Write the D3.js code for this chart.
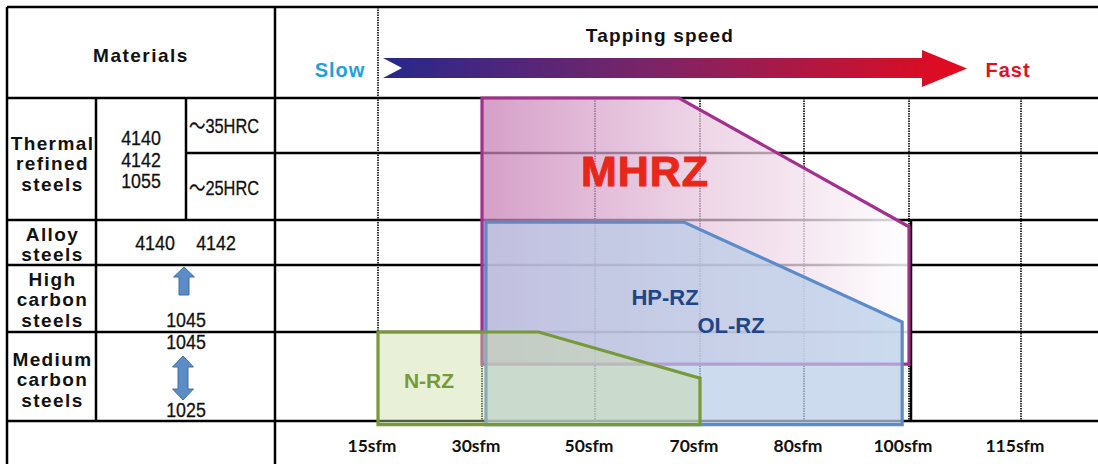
<!DOCTYPE html>
<html>
<head>
<meta charset="utf-8">
<script src="https://cdn.jsdelivr.net/npm/d3@7"></script>
<style>
  body { margin: 0; background: #fff; }
  svg { display: block; }
</style>
</head>
<body>
<div id="chart"></div>
<script>
// x axis: tapping speed ticks
const speedLabels = ["15sfm", "30sfm", "50sfm", "70sfm", "80sfm", "100sfm", "115sfm"];
const speedValues = [15, 30, 50, 70, 80, 100, 115];

// tap ranges as [speed (sfm), row position] (rows: 0 = ~35HRC top ... 5 = bottom of medium carbon)
const mhrzPoints = [[30, 0], [66, 0], [100, 2.15], [100, 4.36], [30, 4.36]];
const hprzPoints = [[30.7, 2.05], [67, 2.05], [98.7, 3.85], [98.7, 5.04], [30.7, 5.04]];
const nrzPoints  = [[15, 4.0], [40, 4.0], [70, 4.52], [70, 5.04], [15, 5.04]];

// material table
const materialNames = [["Thermal", "refined", "steels"], ["Alloy", "steels"], ["High", "carbon", "steels"], ["Medium", "carbon", "steels"]];
const thermalGrades = ["4140", "4142", "1055"];
const hardness = ["～35HRC", "～25HRC"];
const alloyGrades = ["4140", "4142"];
const highCarbonGrade = "1045";
const mediumCarbonGrades = ["1045", "1025"];

const W = 1098, H = 464;
const bold = "'Liberation Sans', Arial, sans-serif";
const narrow = "'Liberation Sans', 'Noto Sans CJK JP', sans-serif";

// layout (table lines)
const leftX = 7, topY = 7, colA = 96, colB = 186, colC = 275;
const rowY = [98, 153, 220, 265, 332, 421];
const gridX = [378, 482, 595, 700, 804, 909, 1021];

const x = d3.scaleLinear().domain(speedValues).range(gridX);
const y = d3.scaleLinear().domain(d3.range(rowY.length)).range(rowY);

const svg = d3.select("#chart").append("svg")
    .attr("width", W)
    .attr("height", H);

const defs = svg.append("defs");

const mg = defs.append("linearGradient").attr("id", "mhrzFill")
    .attr("x1", 0).attr("x2", 1).attr("y1", 0).attr("y2", 0);
mg.append("stop").attr("offset", 0).attr("stop-color", "#c87fb6").attr("stop-opacity", 0.75);
mg.append("stop").attr("offset", 0.55).attr("stop-color", "#e8c8df").attr("stop-opacity", 0.7);
mg.append("stop").attr("offset", 1).attr("stop-color", "#ffffff").attr("stop-opacity", 0.85);

const ag = defs.append("linearGradient").attr("id", "arrowFill")
    .attr("gradientUnits", "userSpaceOnUse")
    .attr("x1", 383).attr("x2", 967).attr("y1", 0).attr("y2", 0);
ag.append("stop").attr("offset", 0).attr("stop-color", "#27288c");
ag.append("stop").attr("offset", 0.45).attr("stop-color", "#7a2468");
ag.append("stop").attr("offset", 1).attr("stop-color", "#e60a1c");

// table lines
const lines = svg.append("g").attr("stroke", "#000").attr("stroke-width", 2.5);
[topY, rowY[0], rowY[2], rowY[3], rowY[4], rowY[5]].forEach(yy => {
    lines.append("line").attr("x1", leftX).attr("x2", W).attr("y1", yy).attr("y2", yy);
});
lines.append("line").attr("x1", colB).attr("x2", W).attr("y1", rowY[1]).attr("y2", rowY[1]);
lines.append("line").attr("x1", leftX).attr("x2", leftX).attr("y1", topY).attr("y2", H);
lines.append("line").attr("x1", colC).attr("x2", colC).attr("y1", topY).attr("y2", H);
lines.append("line").attr("x1", colA).attr("x2", colA).attr("y1", rowY[0]).attr("y2", rowY[5]);
lines.append("line").attr("x1", colB).attr("x2", colB).attr("y1", rowY[0]).attr("y2", rowY[2]);
lines.append("line").attr("x1", x(100) + 2).attr("x2", x(100) + 2).attr("y1", rowY[2]).attr("y2", rowY[5]);

// dotted speed grid
svg.append("g").selectAll("line").data(speedValues).join("line")
    .attr("x1", d => x(d)).attr("x2", d => x(d))
    .attr("y1", (d, i) => i === 0 ? topY : rowY[0])
    .attr("y2", rowY[5])
    .attr("stroke", "#000")
    .attr("stroke-width", 1.6)
    .attr("stroke-dasharray", "1.5,1");

// tap range shapes
const shape = d3.line().x(d => x(d[0])).y(d => y(d[1]));
const ranges = [
    { pts: mhrzPoints, fill: "url(#mhrzFill)", op: 1, stroke: "#a3308f" },
    { pts: hprzPoints, fill: "#b8cde8", op: 0.72, stroke: "#5b8bc9" },
    { pts: nrzPoints, fill: "#c8dca0", op: 0.42, stroke: "#77993a" }
];
svg.append("g").selectAll("path").data(ranges).join("path")
    .attr("d", d => shape(d.pts) + "Z")
    .attr("fill", d => d.fill)
    .attr("fill-opacity", d => d.op)
    .attr("stroke", d => d.stroke)
    .attr("stroke-width", 3.2)
    .attr("stroke-linejoin", "miter");

// range labels
svg.append("text").attr("x", 645).attr("y", 186).attr("text-anchor", "middle")
    .attr("font-family", bold).attr("font-weight", "bold").attr("font-size", 43)
    .attr("letter-spacing", 1).attr("fill", "#e8261a")
    .attr("stroke", "#e8261a").attr("stroke-width", 1).text("MHRZ");
svg.append("text").attr("x", 665).attr("y", 305).attr("text-anchor", "middle")
    .attr("font-family", bold).attr("font-weight", "bold").attr("font-size", 22)
    .attr("fill", "#1f4686").text("HP-RZ");
svg.append("text").attr("x", 731).attr("y", 333).attr("text-anchor", "middle")
    .attr("font-family", bold).attr("font-weight", "bold").attr("font-size", 22)
    .attr("fill", "#1f4686").text("OL-RZ");
svg.append("text").attr("x", 429).attr("y", 388).attr("text-anchor", "middle")
    .attr("font-family", bold).attr("font-weight", "bold").attr("font-size", 21)
    .attr("fill", "#77993a").text("N-RZ");

// speed arrow
svg.append("path")
    .attr("d", "M383,58 L922,58 L922,50 L967,68.5 L922,87 L922,78 L383,78 L402,68 Z")
    .attr("fill", "url(#arrowFill)");
svg.append("text").attr("x", 660).attr("y", 42).attr("text-anchor", "middle")
    .attr("font-family", bold).attr("font-weight", "bold").attr("font-size", 19)
    .attr("letter-spacing", 1.2).attr("fill", "#111").text("Tapping speed");
svg.append("text").attr("x", 340).attr("y", 77).attr("text-anchor", "middle")
    .attr("font-family", bold).attr("font-weight", "bold").attr("font-size", 20)
    .attr("letter-spacing", 1).attr("fill", "#1ba1e2").text("Slow");
svg.append("text").attr("x", 1008).attr("y", 77).attr("text-anchor", "middle")
    .attr("font-family", bold).attr("font-weight", "bold").attr("font-size", 20)
    .attr("letter-spacing", 1).attr("fill", "#e4101e").text("Fast");

// x tick labels
svg.append("g").selectAll("text").data(speedLabels).join("text")
    .attr("x", (d, i) => x(speedValues[i]) - 6)
    .attr("y", 452)
    .attr("text-anchor", "middle")
    .attr("font-family", "Lato, 'Open Sans', sans-serif")
    .attr("font-weight", "bold")
    .attr("font-size", 17.5)
    .attr("fill", "#111")
    .text(d => d);

// material table text
const t = svg.append("g").attr("fill", "#111");
t.append("text").attr("x", (leftX + colC) / 2).attr("y", 62).attr("text-anchor", "middle")
    .attr("font-family", bold).attr("font-weight", "bold").attr("font-size", 19)
    .attr("letter-spacing", 1.5).text("Materials");

const nameBase = [150, 241, 286, 366];
materialNames.forEach((names, i) => {
    names.forEach((s, j) => {
        t.append("text").attr("x", (leftX + colA) / 2 + 1).attr("y", nameBase[i] + j * 20.3)
            .attr("text-anchor", "middle")
            .attr("font-family", bold).attr("font-weight", "bold").attr("font-size", 19)
            .attr("letter-spacing", 1.4).text(s);
    });
});

// condensed gothic-like numbers: regular face squeezed horizontally
const num = (txt, xx, yy, anchor, sx) => t.append("text")
    .attr("transform", `translate(${xx},${yy}) scale(${sx || 0.85},1)`)
    .attr("text-anchor", anchor || "middle")
    .attr("font-family", narrow).attr("font-size", 21)
    .attr("stroke", "#111").attr("stroke-width", 0.3).text(txt);

thermalGrades.forEach((g, i) => num(g, (colA + colB) / 2, 145 + i * 21.5));
hardness.forEach((h, i) => num(h, colB + 3, [133, 195][i], "start", 0.78));
num(alloyGrades[0], 155, 250);
num(alloyGrades[1], 216, 250);
num(highCarbonGrade, 186, 327);
num(mediumCarbonGrades[0], 186, 349);
num(mediumCarbonGrades[1], 186, 417);

// little blue arrows in the grade column
const blk = svg.append("g").attr("fill", "#5b8cc8").attr("stroke", "#41719c").attr("stroke-width", 1);
blk.append("path").attr("d", "M184,267 L194.5,277 L189,277 L189,295 L179,295 L179,277 L173.5,277 Z");
blk.append("path").attr("d", "M183,356 L193.5,367 L188,367 L188,389 L193.5,389 L183,400 L172.5,389 L178,389 L178,367 L172.5,367 Z");
</script>
</body>
</html>
